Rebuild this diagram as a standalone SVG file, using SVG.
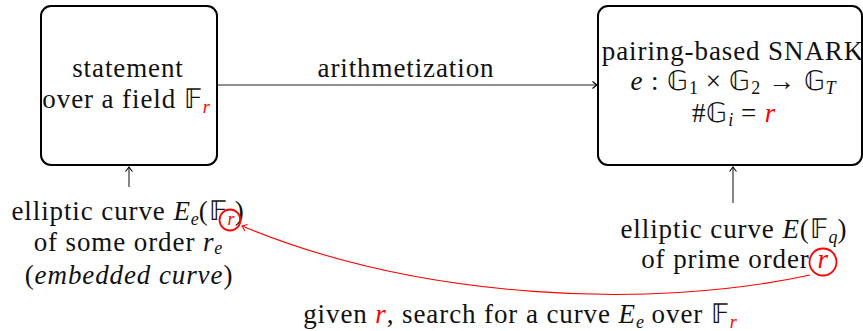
<svg xmlns="http://www.w3.org/2000/svg" width="863" height="331" viewBox="0 0 863 331">
<defs>
<style>
.t{font-size:27px;fill:#111;text-anchor:middle;letter-spacing:0.9px}
.it{font-style:italic}
.sub{font-size:18px;letter-spacing:0}
.red{fill:#f00}
.box{fill:#fff;stroke:#000;stroke-width:2}
.edge{fill:none;stroke:#222;stroke-width:1.1}
.redge{fill:none;stroke:#f00;stroke-width:1.1}
.circ{fill:none;stroke:#f00;stroke-width:1.8}
</style>
<marker id="ah" viewBox="-6 -5 8 10" refX="0" refY="0" markerWidth="8" markerHeight="10" markerUnits="userSpaceOnUse" orient="auto">
<path d="M-4.5,-3.5 Q-1.2,-0.8 0,0 Q-1.2,0.8 -4.5,3.5" fill="none" stroke="#000" stroke-width="1.1"/>
</marker>
<marker id="ahr" viewBox="-6 -5 8 10" refX="0" refY="0" markerWidth="8" markerHeight="10" markerUnits="userSpaceOnUse" orient="auto">
<path d="M-4.5,-3.5 Q-1.2,-0.8 0,0 Q-1.2,0.8 -4.5,3.5" fill="none" stroke="#f00" stroke-width="1.1"/>
</marker>
</defs>
<rect width="863" height="331" fill="#fff"/>

<g id="connectors">
<line class="edge" x1="217" y1="85" x2="597" y2="85" marker-end="url(#ah)"/>
<line class="edge" x1="129" y1="187" x2="129" y2="167" marker-end="url(#ah)"/>
<line class="edge" x1="733" y1="203" x2="733" y2="167" marker-end="url(#ah)"/>
<path class="redge" d="M810,275 C650,310 420,300 242,226" marker-end="url(#ahr)"/>
</g>

<g id="statement">
<rect class="box" x="41" y="6" width="176" height="159" rx="10"/>
<text class="t" font-family="Liberation Serif" x="128" y="77">statement</text>
<text class="t" font-family="Liberation Serif" x="126" y="108">over a field 𝔽<tspan class="sub it red" dy="5">r</tspan></text>
</g>

<g id="snark">
<rect class="box" x="598" y="6" width="264" height="159" rx="10"/>
<text class="t" font-family="Liberation Serif" x="733" y="60">pairing-based SNARK</text>
<text class="t" font-family="Liberation Serif" x="733" y="90"><tspan class="it">e</tspan> : 𝔾<tspan class="sub" dy="4">1</tspan><tspan dy="-4"> × 𝔾</tspan><tspan class="sub" dy="4">2</tspan><tspan dy="-4"> → 𝔾</tspan><tspan class="sub it" dy="4">T</tspan></text>
<text class="t" font-family="Liberation Serif" x="734" y="122">#𝔾<tspan class="sub it" dy="4">i</tspan><tspan dy="-4"> = </tspan><tspan class="it red">r</tspan></text>
</g>

<g id="arith-label">
<text class="t" font-family="Liberation Serif" x="406" y="77">arithmetization</text>
</g>

<g id="embedded">
<text class="t" font-family="Liberation Serif" x="128" y="220">elliptic curve <tspan class="it">E</tspan><tspan class="sub it" dy="5">e</tspan><tspan dy="-5">(𝔽</tspan><tspan class="sub it red" dy="5">r</tspan><tspan dy="-5">)</tspan></text>
<text class="t" font-family="Liberation Serif" x="128" y="251">of some order <tspan class="it">r</tspan><tspan class="sub it" dy="3">e</tspan></text>
<text class="t" font-family="Liberation Serif" x="129" y="284">(<tspan class="it">embedded curve</tspan>)</text>
<circle class="circ" cx="230" cy="220" r="10.5"/>
</g>

<g id="curve">
<text class="t" font-family="Liberation Serif" x="734" y="238">elliptic curve <tspan class="it">E</tspan>(𝔽<tspan class="sub it" dy="5">q</tspan><tspan dy="-5">)</tspan></text>
<text class="t" font-family="Liberation Serif" x="735" y="268">of prime order <tspan class="it red">r</tspan></text>
<circle class="circ" cx="823" cy="262" r="13.5"/>
</g>

<g id="search">
<text class="t" font-family="Liberation Serif" x="520" y="323">given <tspan class="it red">r</tspan>, search for a curve <tspan class="it">E</tspan><tspan class="sub it" dy="5">e</tspan><tspan dy="-5"> over 𝔽</tspan><tspan class="sub it red" dy="5">r</tspan></text>
</g>
</svg>
